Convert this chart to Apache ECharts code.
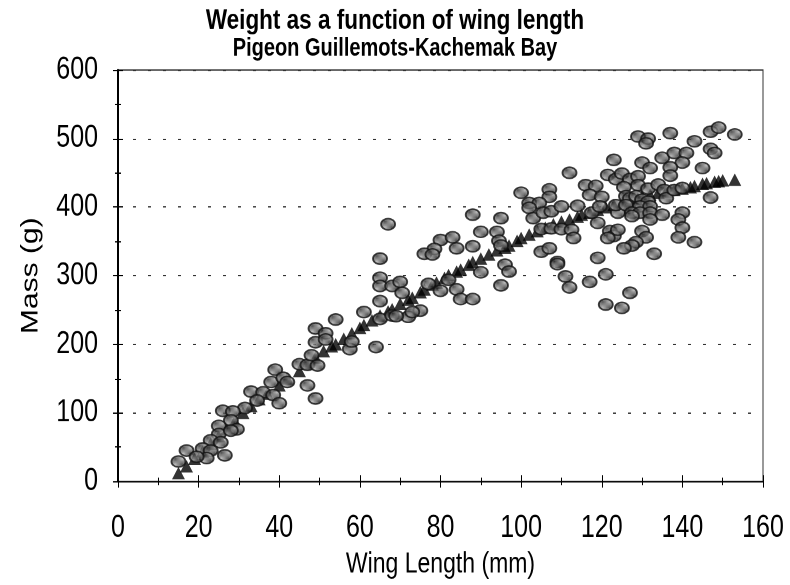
<!DOCTYPE html>
<html>
<head>
<meta charset="utf-8">
<title>Weight as a function of wing length</title>
<script src="https://cdn.jsdelivr.net/npm/echarts@6/dist/echarts.min.js"></script>
<style>
  html, body { margin: 0; padding: 0; background: #fff; }
  #wrap { position: relative; width: 790px; height: 585px; }
  /* the scanned original is taller than wide, so draw at 468 high and stretch */
  #main { position: absolute; left: 0; top: 0; width: 790px; height: 468px;
          transform: scaleY(1.25); transform-origin: 0 0; }
</style>
</head>
<body>
<div id="wrap"><div id="main"></div></div>
<script>
// measured birds (circles): wing length in mm, mass in g
var wingLength = [
  39, 38, 41, 33, 36, 38.5, 40, 34.5, 31.5, 26, 28.5, 28, 25, 29.5, 25, 28, 23, 25.5, 21, 17,
  23, 26.5, 22, 19.5, 15, 45, 47, 49.5, 42, 47, 49, 48, 49, 49,
  65, 65, 65, 68, 65, 65, 68, 61, 54, 51.5, 51.5, 57.5, 58, 64, 67,
  88, 95, 90, 94, 94.5, 95, 80, 83, 78.5, 76, 78, 84, 88, 96, 97, 90, 95, 70, 70.5, 77,
  82, 80, 84, 85, 88, 72, 69, 75, 73,
  123, 112, 121.5, 123.5, 100, 107, 107, 116, 118.5, 117, 120, 102, 104.5, 102, 103, 105.5,
  107.5, 110, 114, 117.5, 119.5, 124, 119, 123.5, 105, 107.5, 110, 112.5, 113, 122, 123, 124,
  121.5, 105, 107, 109, 109, 119, 111, 112, 117, 121, 121,
  129, 131.5, 131, 137, 143, 147, 149, 153, 147, 148, 135, 138, 141, 140, 137, 137, 130, 132,
  145, 125, 127, 129, 129, 131.5, 134, 125.5, 126, 127, 128.5, 130, 131.5, 126, 129.5, 132,
  135.5, 136, 138, 140, 127.5, 129.5, 132, 135, 127.5, 132, 140, 139, 140, 139, 143, 147,
  130, 131, 128.5, 127.5, 125.5, 133, 127, 125
];
var mass = [
  163, 145, 151, 131, 130, 126, 114, 118, 107, 103, 102, 89, 81, 76, 69, 74, 60, 57, 48, 45,
  45, 38, 34, 36, 29, 171, 170, 169, 145, 140, 121, 184, 223, 203,
  325, 297, 285, 285, 263, 237, 242, 247, 236, 216, 207, 193, 204, 196, 375,
  389, 384, 364, 364, 351, 344, 352, 356, 339, 332, 331, 340, 343, 316, 306, 305, 286, 291, 275, 288,
  294, 278, 280, 266, 266, 240, 241, 249, 247,
  469, 450, 447, 441, 421, 426, 415, 432, 431, 418, 415, 406, 406, 399, 384, 392,
  394, 401, 402, 392, 401, 392, 377, 403, 368, 369, 368, 367, 355, 365, 358, 367,
  355, 335, 340, 320, 317, 326, 299, 283, 291, 302, 258,
  503, 500, 493, 508, 496, 510, 516, 506, 485, 479, 472, 479, 479, 465, 458, 446, 465, 457,
  457, 449, 441, 445, 432, 427, 433, 429, 416, 413, 416, 411, 408, 403, 401, 401,
  425, 413, 425, 428, 392, 392, 392, 389, 387, 382, 392, 382, 370, 356, 349, 414,
  365, 356, 349, 344, 340, 332, 275, 253
];

// fitted mass for the same wing lengths (triangles)
var fitWing = [
  15, 17, 19, 21, 23, 25, 27, 29, 31, 33, 35, 37, 40, 42, 45, 47, 49, 51, 53, 54,
  56, 58, 60, 61, 63, 65, 67, 68, 70, 72, 73, 75, 76, 78, 79, 81, 82, 84, 85, 87,
  88, 90, 92, 94, 96, 97, 99, 100, 102, 104, 106, 108, 110, 112, 114, 115, 117, 119, 121, 123,
  125, 127, 129, 130, 132, 134, 136, 138, 140, 142, 143, 145, 146, 148, 149, 150, 153
];
var fitMass = [
  12, 22, 33, 44, 55, 66, 77, 88, 100, 110, 120, 128, 140, 150, 161, 172, 181, 190, 197, 200,
  208, 216, 224, 228, 235, 242, 248, 251, 259, 265, 268, 276, 280, 287, 290, 297, 301, 306, 309, 316,
  320, 325, 331, 337, 341, 344, 351, 355, 360, 365, 370, 375, 379, 382, 386, 389, 392, 396, 400, 403,
  406, 409, 413, 416, 418, 421, 423, 425, 427, 429, 431, 434, 435, 437, 438, 439, 440
];

var xTicks = [0, 20, 40, 60, 80, 100, 120, 140, 160];
var yTicks = [0, 100, 200, 300, 400, 500, 600];

var birds = wingLength.map(function (w, i) { return [w, mass[i]]; });
var fit = fitWing.map(function (w, i) { return [w, fitMass[i]]; });

// stippled grey fill like the printed markers
var pat = document.createElement('canvas');
pat.width = 2; pat.height = 2;
var pctx = pat.getContext('2d');
pctx.fillStyle = '#b0b0b0';
pctx.fillRect(0, 0, 2, 2);
pctx.fillStyle = '#262626';
pctx.fillRect(0, 0, 1, 1);
pctx.fillRect(1, 1, 1, 1);

var font = 'Liberation Sans';
var ellipse = 'path://M0,5A7,5 0 1,0 14,5A7,5 0 1,0 0,5Z';

var myChart = echarts.init(document.getElementById('main'), null, { devicePixelRatio: 2 });

var option = {
  animation: false,
  title: {
    text: 'Weight as a function of wing length',
    subtext: 'Pigeon Guillemots-Kachemak Bay',
    left: 'center',
    top: 0.5,
    itemGap: 0.5,
    textStyle: { fontFamily: font, fontSize: 22.5, fontWeight: 'bold', color: '#000' },
    subtextStyle: { fontFamily: font, fontSize: 20, fontWeight: 'bold', color: '#000' }
  },
  grid: {
    left: 118, right: 27, top: 56, bottom: 74,
    show: true, borderColor: '#333', borderWidth: 1
  },
  xAxis: [
    {
      type: 'value',
      min: xTicks[0], max: xTicks[xTicks.length - 1], interval: xTicks[1] - xTicks[0],
      position: 'bottom',
      name: 'Wing Length (mm)',
      nameLocation: 'middle',
      nameGap: 50.5,
      nameTextStyle: { fontFamily: font, fontSize: 23, color: '#000' },
      axisLine: { onZero: false, lineStyle: { color: '#000', width: 1 } },
      axisTick: { length: 5, lineStyle: { color: '#000' } },
      minorTick: { show: true, splitNumber: 2, length: 3, lineStyle: { color: '#000' } },
      axisLabel: { fontFamily: font, fontSize: 25, color: '#000', margin: 25 },
      splitLine: { show: false }
    },
    {
      type: 'value',
      min: xTicks[0], max: xTicks[xTicks.length - 1], interval: xTicks[1] - xTicks[0],
      position: 'bottom',
      axisLine: { show: false },
      axisTick: { inside: true, length: 5, lineStyle: { color: '#000' } },
      minorTick: { show: true, splitNumber: 2, length: 3, lineStyle: { color: '#000' } },
      axisLabel: { show: false },
      splitLine: { show: false }
    }
  ],
  yAxis: [
    {
      type: 'value',
      min: yTicks[0], max: yTicks[yTicks.length - 1], interval: yTicks[1] - yTicks[0],
      position: 'left',
      name: 'Mass (g)',
      nameLocation: 'middle',
      nameGap: 75,
      nameTextStyle: { fontFamily: font, fontSize: 24, color: '#000' },
      axisLine: { show: true, onZero: false, lineStyle: { color: '#000', width: 2 } },
      axisTick: { show: true, length: 5, lineStyle: { color: '#000' } },
      minorTick: { show: true, splitNumber: 2, length: 3, lineStyle: { color: '#000' } },
      axisLabel: { fontFamily: font, fontSize: 25, color: '#000', margin: 20 },
      splitLine: { show: true, lineStyle: { color: '#333', type: [3, 12], width: 1 } }
    },
    {
      type: 'value',
      min: yTicks[0], max: yTicks[yTicks.length - 1], interval: yTicks[1] - yTicks[0],
      position: 'left',
      axisLine: { show: false },
      axisTick: { show: true, inside: true, length: 5, lineStyle: { color: '#000' } },
      minorTick: { show: true, splitNumber: 2, length: 3, lineStyle: { color: '#000' } },
      axisLabel: { show: false },
      splitLine: { show: false }
    }
  ],
  series: [
    {
      name: 'Predicted',
      type: 'scatter',
      data: fit,
      symbol: 'triangle',
      symbolSize: [13, 10],
      itemStyle: { color: '#000' },
      z: 2
    },
    {
      name: 'Measured',
      type: 'scatter',
      data: birds,
      symbol: ellipse,
      symbolSize: [14, 9],
      itemStyle: {
        color: { image: pat, repeat: 'repeat' },
        borderColor: '#111',
        borderWidth: 1.5
      },
      z: 3
    }
  ]
};

myChart.setOption(option);
</script>
</body>
</html>
